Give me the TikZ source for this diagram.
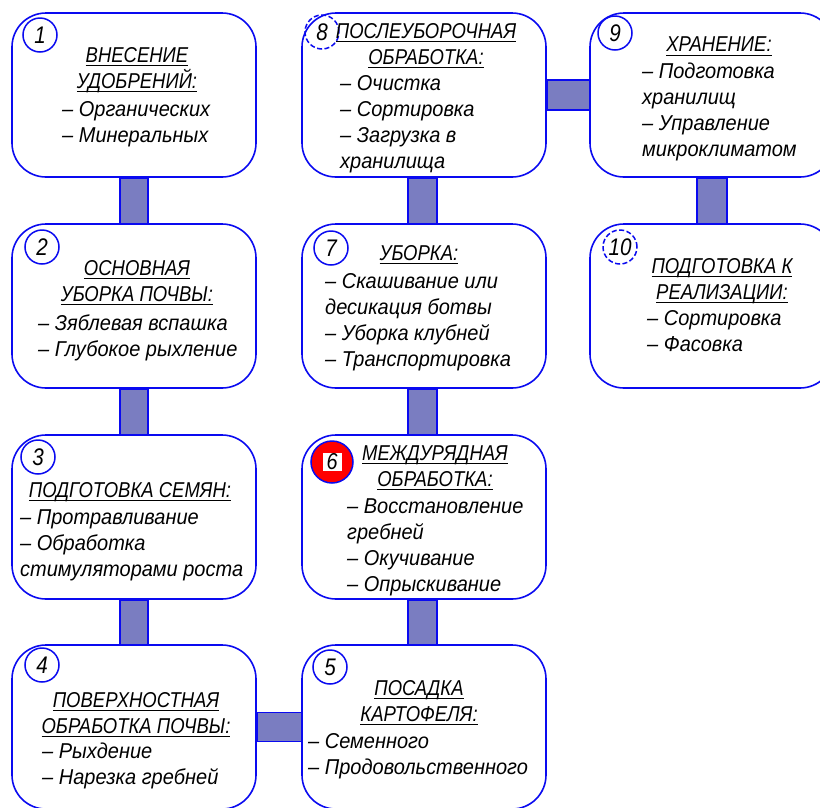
\documentclass[tikz,border=0pt]{standalone}
\usepackage{fontspec}
\newfontfamily\titlefont{Liberation Sans}[FakeStretch=0.86]
\newfontfamily\listfont{Liberation Sans}[FakeStretch=0.93]
\definecolor{barc}{RGB}{122,125,193}
\definecolor{edge}{RGB}{10,10,240}
\newcommand\ulin[1]{\setbox0\hbox{#1}\rlap{\rule[-3.5pt]{\wd0}{0.8pt}}\box0}
\tikzset{
  box/.style={draw=edge, line width=1.6pt, fill=white, rounded corners=34pt,
    minimum width=244pt, minimum height=164pt, inner sep=0pt},
  bar/.style={draw=edge, line width=1.4pt, fill=barc},
  num/.style={circle, draw=edge, line width=1.5pt, minimum size=34pt, inner sep=0pt,
    font=\titlefont\itshape\fontsize{24}{28}\selectfont},
  dnum/.style={num, dash pattern=on 5pt off 2.5pt},
  ttl/.style={anchor=north, align=center, inner sep=0pt,
    font=\titlefont\itshape\fontsize{21.5}{26}\selectfont},
  lst/.style={anchor=north west, align=left, inner sep=0pt,
    font=\listfont\itshape\fontsize{21.5}{26}\selectfont},
}
\begin{document}
\begin{tikzpicture}[x=1pt,y=-1pt]
\useasboundingbox (0,0) rectangle (820,807);
\clip (0,0) rectangle (820,807);
% boxes
\node[box] (b1) at (134,95) {};
\node[box] (b2) at (134,306) {};
\node[box] (b3) at (134,517) {};
\node[box] (b4) at (134,727) {};
\node[box] (b5) at (424,727) {};
\node[box] (b6) at (424,517) {};
\node[box] (b7) at (424,306) {};
\node[box] (b8) at (424,95) {};
\node[box] (b9) at (712,95) {};
\node[box] (b10) at (712,306) {};
% connectors
\path[bar] ([xshift=-14pt]b1.south) rectangle ([xshift=14pt]b2.north);
\path[bar] ([xshift=-14pt]b2.south) rectangle ([xshift=14pt]b3.north);
\path[bar] ([xshift=-14pt]b3.south) rectangle ([xshift=14pt]b4.north);
\path[bar] ([yshift=14.5pt]b4.east) rectangle ([yshift=-14.5pt]b5.west);
\path[bar] ([xshift=-16pt]b5.north) rectangle ([xshift=13pt]b6.south);
\path[bar] ([xshift=-16pt]b6.north) rectangle ([xshift=13pt]b7.south);
\path[bar] ([xshift=-16pt]b7.north) rectangle ([xshift=13pt]b8.south);
\path[bar] ([yshift=15pt]b8.east) rectangle ([yshift=-15pt]b9.west);
\path[bar] ([xshift=-15pt]b9.south) rectangle ([xshift=15pt]b10.north);
% numbers
\node[num] (n1) at (40,35) {1};
\node[num] (n2) at (42,247) {2};
\node[num] (n3) at (38,457) {3};
\node[num] (n4) at (42,665) {4};
\node[num] (n5) at (330,667) {5};
\node[num, fill=red, minimum size=42pt] (n6) at (332,462) {};
\node[fill=white, minimum width=19pt, minimum height=18pt, inner sep=0pt,
  font=\titlefont\itshape\fontsize{23}{26}\selectfont] (n6t) at (n6) {6};
\node[num] (n7) at (331,248) {7};
\node[dnum] (n8) at (322,32) {8};
\node[num] (n9) at (615,33) {9};
\node[dnum] (n10) at (620,247) {10};
% texts
\node[ttl] (t1) at (137,47) {\ulin{ВНЕСЕНИЕ}\\\ulin{УДОБРЕНИЙ:}};
\node[lst] (l1) at (62,101) {–~Органических\\–~Минеральных};
\node[ttl] (t2) at (137,260) {\ulin{ОСНОВНАЯ}\\\ulin{УБОРКА ПОЧВЫ:}};
\node[lst] (l2) at (38,315) {–~Зяблевая вспашка\\–~Глубокое рыхление};
\node[ttl] (t3) at (130,482) {\ulin{ПОДГОТОВКА СЕМЯН:}};
\node[lst] (l3) at (20,509) {–~Протравливание\\–~Обработка\\стимуляторами роста};
\node[ttl] (t4) at (136,692) {\ulin{ПОВЕРХНОСТНАЯ}\\\ulin{ОБРАБОТКА ПОЧВЫ:}};
\node[lst] (l4) at (42,743) {–~Рыхдение\\–~Нарезка гребней};
\node[ttl] (t5) at (419,680) {\ulin{ПОСАДКА}\\\ulin{КАРТОФЕЛЯ:}};
\node[lst] (l5) at (308,733) {–~Семенного\\–~Продовольственного};
\node[ttl] (t6) at (435,445) {\ulin{МЕЖДУРЯДНАЯ}\\\ulin{ОБРАБОТКА:}};
\node[lst] (l6) at (347,498) {–~Восстановление\\гребней\\–~Окучивание\\–~Опрыскивание};
\node[ttl] (t7) at (419,245) {\ulin{УБОРКА:}};
\node[lst] (l7) at (325,273) {–~Скашивание или\\десикация ботвы\\–~Уборка клубней\\–~Транспортировка};
\node[ttl] (t8) at (426,23) {\ulin{ПОСЛЕУБОРОЧНАЯ}\\\ulin{ОБРАБОТКА:}};
\node[lst] (l8) at (340,75) {–~Очистка\\–~Сортировка\\–~Загрузка в\\хранилища};
\node[ttl] (t9) at (719,37) {\ulin{ХРАНЕНИЕ:}};
\node[lst] (l9) at (642,63) {–~Подготовка\\хранилищ\\–~Управление\\микроклиматом};
\node[ttl] (t10) at (722,258) {\ulin{ПОДГОТОВКА К}\\\ulin{РЕАЛИЗАЦИИ:}};
\node[lst] (l10) at (647,310) {–~Сортировка\\–~Фасовка};
\end{tikzpicture}
\end{document}
